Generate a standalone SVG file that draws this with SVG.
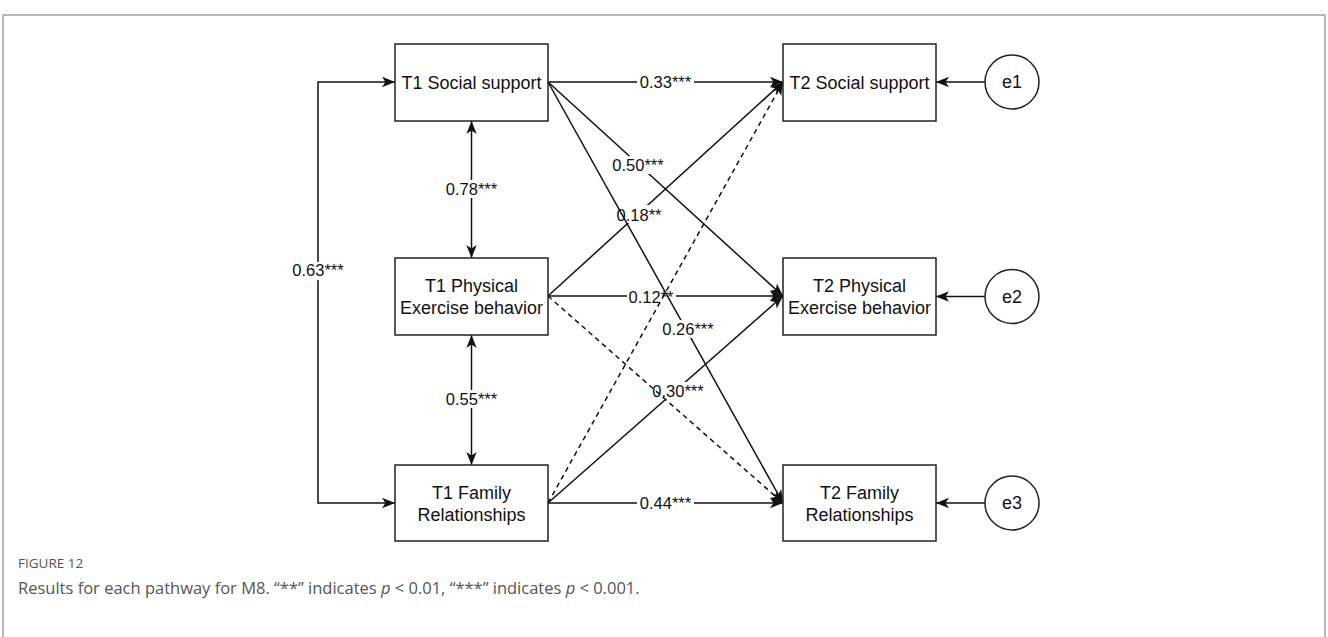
<svg xmlns="http://www.w3.org/2000/svg" width="1328" height="637" viewBox="0 0 1328 637">
<defs>
<marker id="arr" viewBox="0 0 10 10" refX="10" refY="5" markerWidth="13" markerHeight="13" markerUnits="userSpaceOnUse" orient="auto-start-reverse">
<path d="M0,1 L10,5 L0,9 L2.6,5 Z" fill="#111"/>
</marker>
<style>
.box{fill:#fff;stroke:#222;stroke-width:1.5}
.circ{fill:#fff;stroke:#222;stroke-width:1.5}
.t{font-family:"Liberation Sans",Arial,sans-serif;font-size:18px;fill:#111;text-anchor:middle}
.lb{font-family:"Liberation Sans",Arial,sans-serif;font-size:16.5px;fill:#111;text-anchor:middle}
.bg{fill:#fff}
.e{fill:none;stroke:#111;stroke-width:1.5}
.d{stroke-dasharray:5 4}
.cap{font-family:"Open Sans","Noto Sans",sans-serif;fill:#555}
</style>
</defs>
<rect x="3" y="15" width="1322" height="700" fill="none" stroke="#a0a0a0" stroke-width="1.5"/>

<g id="connectors">
<path class="e" d="M395,82 H318 V503 H395" marker-start="url(#arr)" marker-end="url(#arr)"/>
<rect class="bg" x="287" y="262" width="62" height="18"/>
<text class="lb" x="318" y="276">0.63***</text>
<line class="e" x1="471.5" y1="121" x2="471.5" y2="258" marker-start="url(#arr)" marker-end="url(#arr)"/>
<rect class="bg" x="442" y="180" width="60" height="18"/>
<text class="lb" x="471.5" y="195">0.78***</text>
<line class="e" x1="471.5" y1="335" x2="471.5" y2="465" marker-start="url(#arr)" marker-end="url(#arr)"/>
<rect class="bg" x="442" y="390" width="60" height="18"/>
<text class="lb" x="471.5" y="405">0.55***</text>

<line class="e" x1="548" y1="296" x2="783" y2="82" marker-end="url(#arr)"/>
<rect class="bg" x="614" y="205" width="50" height="18"/>
<text class="lb" x="639" y="221">0.18**</text>
<line class="e" x1="548" y1="296" x2="783" y2="296" marker-end="url(#arr)"/>
<rect class="bg" x="627" y="288" width="49" height="18"/>
<text class="lb" x="651" y="303">0.12**</text>
<line class="e" x1="548" y1="82" x2="783" y2="503" marker-end="url(#arr)"/>
<rect class="bg" x="660" y="320" width="57" height="18"/>
<text class="lb" x="688" y="335">0.26***</text>
<line class="e d" x1="548" y1="503" x2="783" y2="82" marker-end="url(#arr)"/>
<line class="e" x1="548" y1="503" x2="783" y2="296" marker-end="url(#arr)"/>
<rect class="bg" x="650" y="382" width="57" height="18"/>
<text class="lb" x="678" y="397">0.30***</text>
<line class="e d" x1="548" y1="296" x2="783" y2="503" marker-end="url(#arr)"/>
<line class="e" x1="548" y1="82" x2="783" y2="296" marker-end="url(#arr)"/>
<rect class="bg" x="609" y="156" width="58" height="18"/>
<text class="lb" x="638" y="171">0.50***</text>
<line class="e" x1="548" y1="82" x2="783" y2="82" marker-end="url(#arr)"/>
<rect class="bg" x="637" y="74" width="57" height="18"/>
<text class="lb" x="665.5" y="88">0.33***</text>
<line class="e" x1="548" y1="503" x2="783" y2="503" marker-end="url(#arr)"/>
<rect class="bg" x="637" y="495" width="57" height="18"/>
<text class="lb" x="665.5" y="509">0.44***</text>
<line class="e" x1="985" y1="82" x2="936" y2="82" marker-end="url(#arr)"/>
<line class="e" x1="985" y1="296.5" x2="936" y2="296.5" marker-end="url(#arr)"/>
<line class="e" x1="985" y1="503" x2="936" y2="503" marker-end="url(#arr)"/>
</g>

<g id="t1-social">
<rect class="box" x="395" y="44" width="153" height="77"/>
<text class="t" x="471.5" y="89">T1 Social support</text>
</g>
<g id="t1-physical">
<rect class="box" x="395" y="258" width="153" height="77"/>
<text class="t" x="471.5" y="292">T1 Physical</text>
<text class="t" x="471.5" y="314">Exercise behavior</text>
</g>
<g id="t1-family">
<rect class="box" x="395" y="465" width="153" height="76"/>
<text class="t" x="471.5" y="499">T1 Family</text>
<text class="t" x="471.5" y="521">Relationships</text>
</g>
<g id="t2-social">
<rect class="box" x="783" y="44" width="153" height="77"/>
<text class="t" x="859.5" y="89">T2 Social support</text>
</g>
<g id="t2-physical">
<rect class="box" x="783" y="258" width="153" height="77"/>
<text class="t" x="859.5" y="292">T2 Physical</text>
<text class="t" x="859.5" y="314">Exercise behavior</text>
</g>
<g id="t2-family">
<rect class="box" x="783" y="465" width="153" height="76"/>
<text class="t" x="859.5" y="499">T2 Family</text>
<text class="t" x="859.5" y="521">Relationships</text>
</g>
<g id="e1">
<circle class="circ" cx="1012" cy="82" r="27"/>
<text class="t" x="1012" y="88">e1</text>
</g>
<g id="e2">
<circle class="circ" cx="1012" cy="296.5" r="27"/>
<text class="t" x="1012" y="302.5">e2</text>
</g>
<g id="e3">
<circle class="circ" cx="1012" cy="503" r="27"/>
<text class="t" x="1012" y="509">e3</text>
</g>

<g id="caption">
<text class="cap" x="18" y="568" font-size="13.5">FIGURE 12</text>
<text class="cap" x="18" y="594" font-size="16.5">Results for each pathway for M8. “**” indicates <tspan font-style="italic">p</tspan> &lt; 0.01, “***” indicates <tspan font-style="italic">p</tspan> &lt; 0.001.</text>
</g>
</svg>
